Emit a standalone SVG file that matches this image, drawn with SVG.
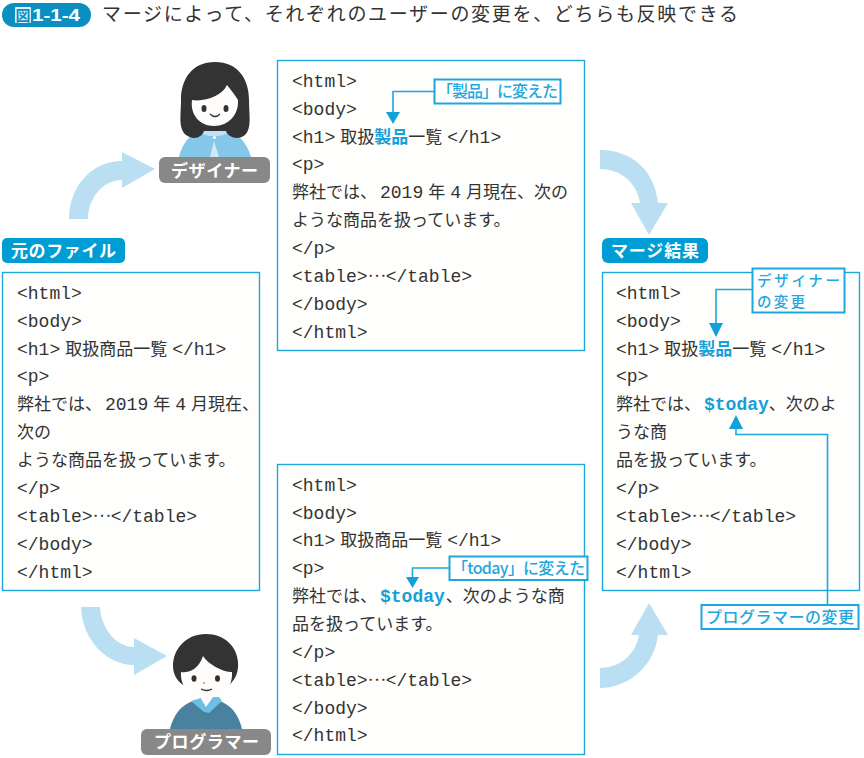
<svg xmlns="http://www.w3.org/2000/svg" width="864" height="758" viewBox="0 0 864 758">
<style>
text{font-family:"Liberation Mono","Noto Sans CJK JP",monospace}
.c{font-size:18px;fill:#333}
.c tspan.j{font-family:"Noto Sans CJK JP",sans-serif;font-size:17px}
.c tspan.hj{font-family:"Noto Sans CJK JP",sans-serif;font-size:17px;font-weight:700;fill:#14a0d8}
.c tspan.hm{font-weight:700;fill:#14a0d8}
.box{fill:#fefefc;stroke:#1ea7dc;stroke-width:1.4}
.call{fill:#fff;stroke:#1ea7dc;stroke-width:2}
.lead{fill:none;stroke:#1ea7dc;stroke-width:1.6}
.head{fill:#12a2da}
.big{fill:#bbdff2}
.pill{fill:#009dd4}
.grey{fill:#888}
.wl{font-family:"Noto Sans CJK JP",sans-serif;font-weight:700;font-size:17px;fill:#fff}
.cl{font-family:"Noto Sans CJK JP",sans-serif;font-weight:500;font-size:16px;fill:#1ea7dc}
.t{font-family:"Noto Sans CJK JP",sans-serif;font-size:19px;fill:#333}
</style>
<rect width="864" height="758" fill="#fff"/>
<g id="title">
<rect x="2" y="3" width="89" height="24" rx="12" fill="#0a8fc0"/>
<rect x="15" y="7" width="16" height="16" rx="1" fill="#dff2fa"/>
<text x="15.500" y="20.500" style="font-family:'Noto Sans CJK JP',sans-serif;font-weight:700;font-size:15px;fill:#0a8fc0">図</text>
<text x="32" y="21" style="font-family:'Liberation Sans',sans-serif;font-weight:700;font-size:16px;fill:#fff" textLength="48" lengthAdjust="spacingAndGlyphs">1-1-4</text>
<text class="t" x="102" y="21" textLength="636">マージによって、それぞれのユーザーの変更を、どちらも反映できる</text>
</g>
<g id="connectors">
<path class="big" d="M69,219 C69,186 92,161 122,161 L122,152 L155,169 L122,188 L122,180 C103,180 88,198 88,219 Z"/>
<path class="big" d="M600,150 C633,150 655,172 658,203 L668,203 L649,235 L631,203 L640,203 C637,183 621,169 600,169 Z"/>
<path class="big" d="M81,607 L100,607 C101,628 116,647 134,647 L134,638 L167,656 L134,675 L134,665 C105,665 82,638 81,607 Z"/>
<path class="big" d="M600,668 C620,668 636,654 639,635 L631,635 L649,603 L668,635 L658,635 C655,664 630,688 600,688 Z"/>
</g>
<g id="original">
<rect class="pill" x="2" y="238" width="123" height="25" rx="5"/>
<text class="wl" x="11" y="256.500" textLength="105">元のファイル</text>
<rect class="box" x="2.500" y="272.500" width="257" height="318"/>
<text class="c" x="17" y="298.500">&lt;html&gt;</text>
<text class="c" x="17" y="326.500">&lt;body&gt;</text>
<text class="c" x="17" y="354.500">&lt;h1&gt;<tspan class="j" dx="5">取扱商品一覧</tspan><tspan dx="5">&lt;/h1&gt;</tspan></text>
<text class="c" x="17" y="382">&lt;p&gt;</text>
<text class="c" x="17" y="410"><tspan class="j">弊社では、</tspan><tspan dx="3">2019</tspan><tspan class="j" dx="5">年</tspan><tspan dx="5">4</tspan><tspan class="j" dx="5">月現在、</tspan></text>
<text class="c" x="17" y="438"><tspan class="j">次の</tspan></text>
<text class="c" x="17" y="466"><tspan class="j">ような商品を扱っています。</tspan></text>
<text class="c" x="17" y="494">&lt;/p&gt;</text>
<text class="c" x="17" y="522">&lt;table&gt;<tspan class="j" dy="-5">…</tspan><tspan dy="5">&lt;/table&gt;</tspan></text>
<text class="c" x="17" y="550">&lt;/body&gt;</text>
<text class="c" x="17" y="578">&lt;/html&gt;</text>
</g>
<g id="designer-edit">
<rect class="box" x="277.500" y="60.500" width="307" height="290"/>
<text class="c" x="292" y="87">&lt;html&gt;</text>
<text class="c" x="292" y="115">&lt;body&gt;</text>
<text class="c" x="292" y="143">&lt;h1&gt;<tspan class="j" dx="5">取扱</tspan><tspan class="hj">製品</tspan><tspan class="j">一覧</tspan><tspan dx="5">&lt;/h1&gt;</tspan></text>
<text class="c" x="292" y="170">&lt;p&gt;</text>
<text class="c" x="292" y="198"><tspan class="j">弊社では、</tspan><tspan dx="3">2019</tspan><tspan class="j" dx="5">年</tspan><tspan dx="5">4</tspan><tspan class="j" dx="5">月現在、次の</tspan></text>
<text class="c" x="292" y="226"><tspan class="j">ような商品を扱っています。</tspan></text>
<text class="c" x="292" y="254">&lt;/p&gt;</text>
<text class="c" x="292" y="282">&lt;table&gt;<tspan class="j" dy="-5">…</tspan><tspan dy="5">&lt;/table&gt;</tspan></text>
<text class="c" x="292" y="310">&lt;/body&gt;</text>
<text class="c" x="292" y="338">&lt;/html&gt;</text>
</g>
<g id="programmer-edit">
<rect class="box" x="277.500" y="464.500" width="307" height="290"/>
<text class="c" x="292" y="491">&lt;html&gt;</text>
<text class="c" x="292" y="519">&lt;body&gt;</text>
<text class="c" x="292" y="546">&lt;h1&gt;<tspan class="j" dx="5">取扱商品一覧</tspan><tspan dx="5">&lt;/h1&gt;</tspan></text>
<text class="c" x="292" y="574">&lt;p&gt;</text>
<text class="c" x="292" y="602"><tspan class="j">弊社では、</tspan><tspan class="hm" dx="3">$today</tspan><tspan class="j" dx="1">、次のような商</tspan></text>
<text class="c" x="292" y="630"><tspan class="j">品を扱っています。</tspan></text>
<text class="c" x="292" y="658">&lt;/p&gt;</text>
<text class="c" x="292" y="686">&lt;table&gt;<tspan class="j" dy="-5">…</tspan><tspan dy="5">&lt;/table&gt;</tspan></text>
<text class="c" x="292" y="714">&lt;/body&gt;</text>
<text class="c" x="292" y="741">&lt;/html&gt;</text>
</g>
<g id="merged">
<rect class="pill" x="602" y="238" width="106" height="25" rx="6"/>
<text class="wl" x="611" y="256.500" textLength="88">マージ結果</text>
<rect class="box" x="602.500" y="272.500" width="257" height="318"/>
<text class="c" x="616" y="298.500">&lt;html&gt;</text>
<text class="c" x="616" y="326.500">&lt;body&gt;</text>
<text class="c" x="616" y="354.500">&lt;h1&gt;<tspan class="j" dx="5">取扱</tspan><tspan class="hj">製品</tspan><tspan class="j">一覧</tspan><tspan dx="5">&lt;/h1&gt;</tspan></text>
<text class="c" x="616" y="382">&lt;p&gt;</text>
<text class="c" x="616" y="410"><tspan class="j">弊社では、</tspan><tspan class="hm" dx="3">$today</tspan><tspan class="j">、次のよ</tspan></text>
<text class="c" x="616" y="438"><tspan class="j">うな商</tspan></text>
<text class="c" x="616" y="466"><tspan class="j">品を扱っています。</tspan></text>
<text class="c" x="616" y="494">&lt;/p&gt;</text>
<text class="c" x="616" y="522">&lt;table&gt;<tspan class="j" dy="-5">…</tspan><tspan dy="5">&lt;/table&gt;</tspan></text>
<text class="c" x="616" y="550">&lt;/body&gt;</text>
<text class="c" x="616" y="578">&lt;/html&gt;</text>
</g>
<g id="callouts">
<path class="lead" d="M434,91.500 H393 V114"/><path class="head" d="M386,112 H400 L393,124 Z"/>
<rect class="call" x="434.500" y="79.500" width="126" height="24"/>
<text class="cl" x="437" y="97" textLength="121">「製品」に変えた</text>
<path class="lead" d="M449,568 H412.500 V578"/><path class="head" d="M406,577 H419 L412.500,588 Z"/>
<rect class="call" x="449.500" y="556.500" width="138" height="23.500"/>
<text class="cl" x="452" y="574" textLength="133">「today」に変えた</text>
<path class="lead" d="M752,289.500 H716 V326"/><path class="head" d="M709,323 H723 L716,337 Z"/>
<rect class="call" x="752.500" y="268.500" width="92" height="44"/>
<text class="cl" x="757" y="285.500" textLength="83" style="font-size:14.500px">デザイナー</text>
<text class="cl" x="757" y="306.500" textLength="48" style="font-size:14.500px">の変更</text>
<path class="lead" d="M827.500,605 V434.500 H736 V425"/><path class="head" d="M729,429 H743 L736,415 Z"/>
<rect class="call" x="701.500" y="605" width="157" height="24"/>
<text class="cl" x="706" y="623" textLength="148">プログラマーの変更</text>
</g>
<g id="designer">
<path d="M179,157 C183,140 195,128 214,127 C234,128 246,140 251,157 Z" fill="#85c7e8"/>
<path d="M210,157 L214,141 L219,157 Z" fill="#cfe9f6"/>
<path d="M202,127 C209,131 220,131 227,127 L226,134 C219,137 210,137 203,134 Z" fill="#bfe2f4"/>
<circle cx="214.500" cy="137.500" r="1.500" fill="#fff"/>
<path d="M215,62 C192,62 181,79 181,100 C181,116 178,128 186,135 C194,141 202,137 204,131 L226,131 C228,137 238,141 245,135 C252,128 249,116 249,100 C249,79 238,62 215,62 Z" fill="#333"/>
<path d="M227,85 C222,96 205,102 192,100 C190,115 200,126 214,126 C229,126 239,114 238,100 C235,95 231,90 227,85 Z" fill="#fefdfb"/>
<ellipse cx="204" cy="108.500" rx="2.500" ry="3.500" fill="#333"/>
<ellipse cx="226" cy="108.500" rx="2.500" ry="3.500" fill="#333"/>
<path d="M210,114 Q215,119 220,114" fill="none" stroke="#333" stroke-width="1.300"/>
<rect class="grey" x="159" y="157" width="111" height="26" rx="6"/>
<text class="wl" x="171" y="177" textLength="87">デザイナー</text>
</g>
<g id="programmer">
<path d="M170,729 C175,708 189,699 206,699 C224,699 237,708 242,729 Z" fill="#4a819e"/>
<path d="M191,701 L204,697 L219,697 L222,701 L209,713 L204,712 Z" fill="#6fbfe4"/>
<path d="M200,697 L213,697 L206,707 Z" fill="#fefdfb"/>
<path d="M206,634 C186,634 173,649 173,666 C173,674 177,681 183,685 L229,685 C235,680 239,672 238,662 C237,647 225,634 206,634 Z" fill="#333"/>
<path d="M181,672 C187,673 198,671 203,656 C208,664 222,672 232,672 C233,688 222,698 206,698 C191,698 180,688 181,672 Z" fill="#fefdfb"/>
<ellipse cx="194" cy="678.500" rx="2.500" ry="3.300" fill="#333"/>
<ellipse cx="217.500" cy="678.500" rx="2.500" ry="3.300" fill="#333"/>
<circle cx="204" cy="683" r="0.700" fill="#333"/>
<path d="M201,689 Q207,692 212,689" fill="none" stroke="#333" stroke-width="1.300"/>
<rect class="grey" x="141" y="729" width="130" height="26" rx="6"/>
<text class="wl" x="154" y="748" textLength="105">プログラマー</text>
</g>
</svg>
